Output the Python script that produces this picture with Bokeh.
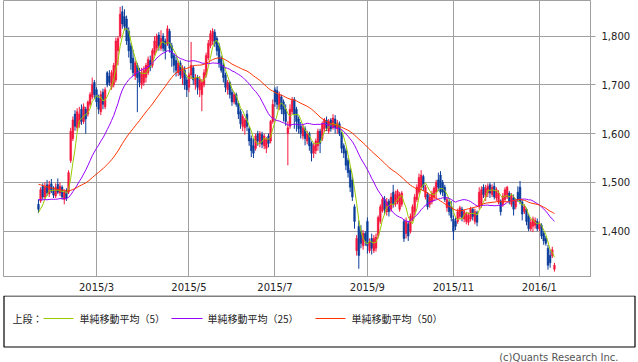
import numpy as np
import pandas as pd
from bokeh.plotting import figure
from bokeh.models import Range1d, FixedTicker, NumeralTickFormatter, ColumnDataSource
from bokeh.core.properties import value
from bokeh.embed import file_html
from bokeh.resources import INLINE

# ---------------- data ----------------
# closes before the visible window (only used for the moving averages)
prev_close = [
    1545, 1538, 1552, 1560, 1548, 1535, 1522, 1530, 1541, 1527,
    1515, 1508, 1520, 1534, 1529, 1540, 1526, 1518, 1510, 1523,
    1531, 1519, 1512, 1505, 1498,
    1490, 1482, 1475, 1488, 1480, 1470, 1478, 1485, 1472, 1466,
    1475, 1480, 1468, 1460, 1472, 1465, 1458, 1462, 1450, 1455,
    1445, 1432, 1428, 1440,
]

open_ = [
    1455, 1462, 1492, 1470, 1495, 1476, 1497, 1485, 1472, 1496,
    1478, 1490, 1465, 1482, 1480, 1545, 1590, 1640, 1612, 1620,
    1650, 1625, 1650, 1640, 1660, 1675, 1705, 1690, 1672, 1645,
    1685, 1655, 1725, 1718, 1695, 1700, 1710, 1770, 1800, 1850,
    1840, 1835, 1810, 1780, 1755, 1718, 1740, 1725, 1700, 1705,
    1715, 1725, 1750, 1740, 1765, 1775, 1802, 1775, 1800, 1790,
    1785, 1810, 1780, 1760, 1750, 1725, 1745, 1715, 1730, 1710,
    1695, 1720, 1735, 1700, 1715, 1690, 1680, 1700, 1720, 1755,
    1780, 1790, 1808, 1795, 1780, 1755, 1740, 1720, 1690, 1705,
    1685, 1665, 1680, 1662, 1645, 1615, 1612, 1640, 1610, 1590,
    1575, 1570, 1600, 1580, 1598, 1575, 1570, 1595, 1585, 1625,
    1690, 1688, 1655, 1675, 1665, 1650, 1600, 1615, 1645, 1670,
    1650, 1630, 1615, 1595, 1610, 1585, 1600, 1580, 1560, 1565,
    1575, 1605, 1590, 1610, 1628, 1605, 1628, 1612, 1630, 1610,
    1620, 1600, 1575, 1565, 1545, 1525, 1505, 1450, 1360, 1410,
    1400, 1370, 1395, 1420, 1360, 1385, 1360, 1365, 1390, 1420,
    1442, 1465, 1440, 1462, 1445, 1480, 1455, 1460, 1445, 1455,
    1420, 1395, 1415, 1400, 1425, 1440, 1465, 1480, 1490, 1512,
    1470, 1475, 1455, 1460, 1470, 1480, 1505, 1515, 1500, 1490,
    1448, 1460, 1450, 1425, 1420, 1420, 1430, 1445, 1425, 1420,
    1418, 1425, 1445, 1420, 1438, 1450, 1455, 1490, 1470, 1478,
    1495, 1475, 1492, 1468, 1460, 1462, 1455, 1465, 1470, 1478,
    1455, 1468, 1450, 1480, 1490, 1460, 1440, 1445, 1430, 1405,
    1410, 1412, 1420, 1405, 1412, 1395, 1385, 1365, 1350, 1350,
    1322,
]

close = [
    1445, 1485, 1470, 1490, 1478, 1495, 1482, 1474, 1490, 1480,
    1492, 1470, 1480, 1468, 1520, 1605, 1628, 1615, 1645, 1640,
    1625, 1655, 1630, 1665, 1680, 1700, 1680, 1665, 1650, 1680,
    1660, 1690, 1700, 1705, 1725, 1740, 1790, 1795, 1845, 1825,
    1820, 1790, 1770, 1745, 1725, 1745, 1715, 1705, 1725, 1730,
    1740, 1752, 1735, 1770, 1790, 1800, 1780, 1795, 1775, 1770,
    1815, 1775, 1755, 1740, 1730, 1745, 1720, 1735, 1700, 1690,
    1720, 1740, 1710, 1715, 1695, 1710, 1705, 1725, 1760, 1785,
    1805, 1810, 1785, 1770, 1745, 1730, 1715, 1695, 1705, 1680,
    1665, 1680, 1660, 1640, 1620, 1635, 1628, 1615, 1585, 1565,
    1560, 1595, 1585, 1600, 1578, 1595, 1588, 1580, 1625, 1660,
    1665, 1660, 1680, 1650, 1640, 1625, 1612, 1650, 1668, 1640,
    1625, 1610, 1600, 1612, 1590, 1600, 1575, 1560, 1575, 1585,
    1605, 1580, 1620, 1628, 1612, 1625, 1610, 1632, 1612, 1622,
    1600, 1570, 1560, 1535, 1520, 1490, 1470, 1420, 1385, 1350,
    1375, 1395, 1380, 1370, 1378, 1365, 1385, 1388, 1428, 1450,
    1465, 1445, 1460, 1440, 1470, 1455, 1475, 1482, 1475, 1478,
    1385, 1420, 1390, 1430, 1450, 1470, 1490, 1510, 1515, 1490,
    1490, 1450, 1470, 1478, 1488, 1500, 1490, 1480, 1480, 1465,
    1465, 1440, 1428, 1400, 1410, 1440, 1448, 1428, 1440, 1436,
    1432, 1445, 1430, 1440, 1418, 1480, 1485, 1475, 1488, 1492,
    1478, 1490, 1470, 1485, 1478, 1440, 1472, 1485, 1490, 1462,
    1472, 1445, 1462, 1465, 1460, 1435, 1450, 1420, 1405, 1418,
    1425, 1422, 1405, 1415, 1390, 1380, 1375, 1330, 1335, 1362,
    1330,
]

high = [
    1465, 1490, 1498, 1500, 1505, 1503, 1507, 1492, 1498, 1508,
    1500, 1494, 1486, 1488, 1525, 1612, 1635, 1648, 1652, 1655,
    1660, 1662, 1655, 1668, 1685, 1715, 1710, 1695, 1680, 1688,
    1692, 1695, 1728, 1730, 1730, 1745, 1797, 1800, 1860, 1862,
    1855, 1842, 1818, 1786, 1772, 1750, 1745, 1735, 1735, 1738,
    1745, 1758, 1760, 1775, 1800, 1805, 1808, 1812, 1806, 1795,
    1822, 1815, 1786, 1765, 1758, 1750, 1750, 1740, 1738, 1717,
    1725, 1788, 1740, 1722, 1720, 1718, 1712, 1732, 1766, 1792,
    1812, 1816, 1814, 1800, 1786, 1760, 1745, 1725, 1710, 1708,
    1692, 1685, 1684, 1666, 1650, 1640, 1632, 1648, 1615, 1596,
    1590, 1600, 1606, 1605, 1604, 1600, 1593, 1600, 1628, 1670,
    1695, 1697, 1686, 1680, 1670, 1660, 1625, 1660, 1675, 1675,
    1655, 1635, 1624, 1618, 1615, 1606, 1604, 1584, 1580, 1590,
    1610, 1610, 1625, 1632, 1635, 1630, 1632, 1640, 1638, 1628,
    1625, 1604, 1580, 1570, 1550, 1530, 1512, 1455, 1392, 1422,
    1412, 1402, 1400, 1428, 1385, 1395, 1392, 1395, 1432, 1455,
    1470, 1472, 1468, 1466, 1478, 1495, 1483, 1486, 1480, 1482,
    1425, 1428, 1420, 1436, 1455, 1476, 1496, 1518, 1525, 1516,
    1495, 1480, 1475, 1483, 1492, 1505, 1520, 1523, 1505, 1495,
    1470, 1465, 1462, 1432, 1428, 1446, 1452, 1450, 1445, 1440,
    1438, 1450, 1448, 1446, 1442, 1490, 1492, 1496, 1495, 1498,
    1500, 1496, 1500, 1490, 1484, 1465, 1478, 1490, 1493, 1482,
    1478, 1475, 1466, 1492, 1503, 1465, 1455, 1448, 1435, 1425,
    1430, 1428, 1426, 1420, 1416, 1400, 1390, 1372, 1362, 1368,
    1335,
]

low = [
    1437, 1458, 1465, 1466, 1472, 1470, 1478, 1468, 1468, 1476,
    1472, 1465, 1455, 1462, 1476, 1540, 1585, 1606, 1605, 1612,
    1618, 1620, 1600, 1635, 1655, 1670, 1672, 1655, 1640, 1638,
    1650, 1650, 1695, 1698, 1690, 1695, 1705, 1740, 1795, 1815,
    1812, 1782, 1756, 1731, 1718, 1710, 1644, 1695, 1692, 1698,
    1705, 1720, 1728, 1735, 1760, 1768, 1770, 1770, 1768, 1752,
    1780, 1766, 1737, 1725, 1717, 1718, 1712, 1700, 1690, 1675,
    1685, 1712, 1700, 1690, 1680, 1675, 1646, 1695, 1715, 1750,
    1775, 1782, 1778, 1760, 1735, 1725, 1705, 1685, 1680, 1672,
    1657, 1660, 1655, 1630, 1610, 1605, 1598, 1605, 1575, 1552,
    1550, 1565, 1575, 1572, 1570, 1568, 1560, 1572, 1580, 1620,
    1655, 1650, 1648, 1640, 1625, 1616, 1535, 1610, 1640, 1610,
    1604, 1600, 1590, 1588, 1576, 1578, 1565, 1543, 1550, 1558,
    1565, 1560, 1585, 1604, 1605, 1600, 1604, 1608, 1600, 1600,
    1595, 1560, 1550, 1525, 1510, 1480, 1462, 1405, 1350, 1323,
    1365, 1362, 1370, 1354, 1355, 1352, 1355, 1358, 1385, 1415,
    1438, 1435, 1432, 1430, 1440, 1448, 1450, 1455, 1440, 1450,
    1378, 1385, 1380, 1395, 1420, 1432, 1460, 1475, 1485, 1482,
    1465, 1444, 1448, 1455, 1462, 1465, 1482, 1475, 1472, 1460,
    1440, 1432, 1420, 1382, 1402, 1415, 1425, 1420, 1418, 1414,
    1412, 1420, 1422, 1414, 1410, 1445, 1448, 1468, 1462, 1470,
    1468, 1470, 1465, 1462, 1455, 1432, 1450, 1460, 1466, 1455,
    1450, 1432, 1445, 1460, 1455, 1422, 1435, 1412, 1400, 1400,
    1398, 1405, 1400, 1400, 1384, 1372, 1370, 1321, 1325, 1345,
    1317,
]

# first trading day of the labelled months (index into the series)
tick_index = [27, 70, 110, 153, 193, 233]
tick_labels = ["2015/3", "2015/5", "2015/7", "2015/9", "2015/11", "2016/1"]
y_ticks = [1400, 1500, 1600, 1700, 1800]

legend_title = "上段："
ma_periods = [5, 25, 50]
ma_names = ["単純移動平均（5）", "単純移動平均（25）", "単純移動平均（50）"]
ma_colors = ["#99cc00", "#9900ff", "#ff3300"]
copyright_text = "(c)Quants Research Inc."

# ---------------- derived ----------------
n = len(close)
idx = np.arange(n)
o = np.array(open_, dtype=float)
c = np.array(close, dtype=float)
up = c >= o
RED, BLUE = "#f5163c", "#0a3c9a"
colors = [RED if u else BLUE for u in up]
src = ColumnDataSource(dict(x=idx, open=o, close=c, high=high, low=low, color=colors))

all_close = pd.Series(prev_close + close, dtype=float)
mas = [all_close.rolling(k).mean().iloc[len(prev_close):].to_numpy() for k in ma_periods]

GRID = "#a0a0a0"
FONT = "DejaVu Sans"

chart = figure(width=638, height=295, output_backend="svg", toolbar_location=None,
               x_range=Range1d(-16.26, 256.77), y_range=Range1d(1307, 1873),
               y_axis_location="right", min_border_left=3, min_border_right=48,
               min_border_top=0, min_border_bottom=15,
               styles={"position": "absolute", "left": "0px", "top": "0px"})
chart.outline_line_color = GRID
chart.background_fill_color = "white"
chart.xaxis.ticker = FixedTicker(ticks=tick_index)
chart.xaxis.major_label_overrides = {t: l for t, l in zip(tick_index, tick_labels)}
chart.xaxis.major_tick_out = 0
chart.xaxis.major_tick_in = 0
chart.xaxis.minor_tick_out = 0
chart.xaxis.minor_tick_in = 0
chart.xaxis.major_label_standoff = 5
chart.yaxis.ticker = FixedTicker(ticks=y_ticks)
chart.yaxis.formatter = NumeralTickFormatter(format="0,0")
chart.yaxis.major_tick_out = 5
chart.yaxis.major_tick_in = 0
chart.yaxis.minor_tick_out = 0
chart.yaxis.minor_tick_in = 0
chart.yaxis.major_label_standoff = 6
for ax in (chart.xaxis[0], chart.yaxis[0]):
    ax.axis_line_color = GRID
    ax.major_tick_line_color = GRID
    ax.major_label_text_font = FONT
    ax.major_label_text_font_size = "10px"
    ax.major_label_text_color = "#222222"
chart.xgrid.grid_line_color = GRID
chart.ygrid.grid_line_color = GRID
chart.xgrid.grid_line_alpha = 1
chart.ygrid.grid_line_alpha = 1

chart.segment(x0="x", y0="low", x1="x", y1="high", color="color", line_width=1, source=src)
chart.vbar(x="x", top="open", bottom="close", width=0.8, fill_color="color",
           line_color="color", line_width=0.5, source=src)
for m, col in zip(mas, ma_colors):
    chart.line(idx, m, color=col, line_width=1)

# ---------------- legend panel (own root, placed under the chart) ----------------
leg = figure(width=638, height=67, output_backend="svg", toolbar_location=None,
             x_range=Range1d(0, 638), y_range=Range1d(67, 0),
             x_axis_location=None, y_axis_location=None, min_border=0,
             styles={"position": "absolute", "left": "0px", "top": "295px"})
leg.outline_line_color = None
leg.grid.visible = False
leg.quad(left=3.5, right=634.5, top=0.5, bottom=51.5, fill_color=None,
         line_color="black", line_width=1.2)
leg.segment(x0=[43, 171, 315], y0=[23, 23, 23], x1=[73, 202, 345], y1=[23, 23, 23],
            color=ma_colors, line_width=1)
leg.text(x=[12, 79, 207, 351], y=[23, 23, 23, 23], text=[legend_title] + ma_names,
         text_font=value("Noto Sans CJK JP"), text_font_size="10px",
         text_baseline="middle", text_color="#222222")
leg.text(x=[618], y=[62], text=[copyright_text], text_font=value(FONT),
         text_font_size="10px", text_baseline="middle", text_align="right",
         text_color="#555555")

open("out.html", "w").write(file_html([chart, leg], INLINE))
